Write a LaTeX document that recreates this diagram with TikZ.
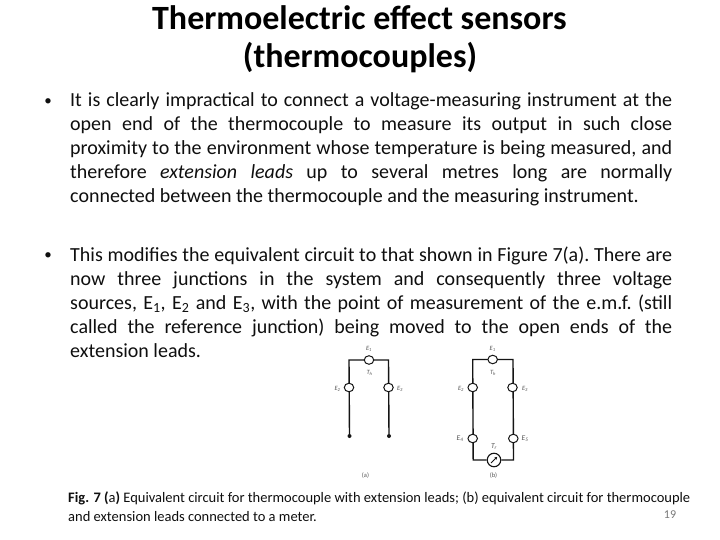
\documentclass[tikz,border=0pt]{standalone}
\usepackage{fontspec}
\setmainfont{Carlito}
\definecolor{inkc}{RGB}{15,15,15}
\definecolor{figc}{RGB}{20,20,20}
\definecolor{lblc}{RGB}{85,85,85}
\definecolor{numc}{RGB}{120,120,120}
\newcommand{\jline}[1]{\hbox to 602pt{\frenchspacing\spaceskip=0.2em plus 1fil\relax #1}}
\tikzset{
 x=1pt,y=-1pt,
 titletext/.style={font=\fontsize{34}{38}\selectfont\bfseries,text=black,inner sep=0,anchor=base},
 bodytext/.style={font=\fontsize{20}{24}\selectfont,text=inkc,inner sep=0,anchor=north west,align=left},
 bullettext/.style={font=\fontsize{15}{18}\selectfont,text=inkc,inner sep=0,anchor=center},
 captext/.style={font=\fontsize{14.5}{18}\selectfont,text=inkc,inner sep=0,anchor=west},
 wire/.style={draw=figc,line width=1.4pt},
 junc/.style={ellipse,draw=figc,line width=1pt,fill=white,minimum width=9.5pt,minimum height=8.5pt,inner sep=0},
 meter/.style={circle,draw=figc,line width=1.1pt,fill=white,minimum size=13.5pt,inner sep=0},
 lbl/.style={font=\fontsize{6.5}{7}\selectfont\itshape,text=lblc,inner sep=0},
 lblbig/.style={font=\fontsize{7.5}{8}\selectfont\itshape,text=lblc,inner sep=0},
 lblcap/.style={font=\fontsize{6.5}{7}\selectfont,text=lblc,inner sep=0},
 wdot/.style={circle,fill=figc,minimum size=4pt,inner sep=0},
}
\usetikzlibrary{shapes.geometric,arrows.meta}
\begin{document}
\begin{tikzpicture}
\useasboundingbox (0,0) rectangle (720,540);
\fill[white] (0,0) rectangle (720,540);
\node[titletext] (t1) at (359.5,30) {Thermoelectric effect sensors};
\node[titletext] (t2) at (360,68) {(thermocouples)};
\node[bullettext] (b1) at (48,102.5) {•};
\node[bodytext] (p1) at (70,92.5) {\vbox{\baselineskip=24pt
\jline{It is clearly impractical to connect a voltage-measuring instrument at the}
\jline{open end of the thermocouple to measure its output in such close}
\jline{proximity to the environment whose temperature is being measured, and}
\jline{therefore \textit{extension leads} up to several metres long are normally}
\hbox{connected between the thermocouple and the measuring instrument.}}};
\node[bullettext] (b2) at (48,256.5) {•};
\node[bodytext] (p2) at (70,246.5) {\vbox{\baselineskip=24pt
\jline{This modifies the equivalent circuit to that shown in Figure 7(a). There are}
\jline{now three junctions in the system and consequently three voltage}
\jline{sources, E\textsubscript{1}, E\textsubscript{2} and E\textsubscript{3}, with the point of measurement of the e.m.f. (still}
\jline{called the reference junction) being moved to the open ends of the}
\hbox{extension leads.}}};
% circuit (a)
\coordinate (atl) at (349,360);
\coordinate (atr) at (388.5,360);
\node[wdot] (ad1) at (349.5,436) {};
\node[wdot] (ad2) at (389,436) {};
\draw[wire] (ad1) -- (atl) -- (atr) -- (ad2);
\node[junc] (a1) at (369,360) {};
\node[junc] (a2) at (349,387.5) {};
\node[junc] (a3) at (388.5,387.5) {};
\node[lbl] (la1) at (369,349) {E\textsubscript{1}};
\node[lbl] (la2) at (369.5,372.5) {T\textsubscript{h}};
\node[lbl] (la3) at (337.5,389) {E\textsubscript{2}};
\node[lbl] (la4) at (400,389) {E\textsubscript{3}};
\node[lblcap] (la5) at (365.5,476) {(a)};
% circuit (b)
\coordinate (btl) at (472.7,359.5);
\coordinate (btr) at (513,359.5);
\coordinate (bbl) at (473.2,460);
\coordinate (bbr) at (513.5,460);
\node[meter] (bm) at (494,460) {};
\draw[wire] (bm) -- (bbl) -- (btl) -- (btr) -- (bbr) -- (bm);
\node[junc] (b1j) at (492.7,359.5) {};
\node[junc] (b2j) at (472.7,387.5) {};
\node[junc] (b3j) at (512.5,387.5) {};
\node[junc] (b4j) at (472.7,438.5) {};
\node[junc] (b5j) at (513.3,438.5) {};
\draw[draw=figc,line width=1pt,-{Stealth[length=3pt,width=3pt]}] (bm.south west) ++(2.2,-2.2) -- ++(6.2,-6.2);
\node[lbl] (lb1) at (492.7,349) {E\textsubscript{1}};
\node[lbl] (lb2) at (493,372.5) {T\textsubscript{h}};
\node[lbl] (lb3) at (461,388.5) {E\textsubscript{2}};
\node[lbl] (lb4) at (525,389) {E\textsubscript{3}};
\node[lblbig] (lb5) at (460,439) {E\textsubscript{4}};
\node[lblbig] (lb6) at (525,439) {E\textsubscript{5}};
\node[lblbig] (lb7) at (494,447) {T\textsubscript{r}};
\node[lblcap] (lb8) at (493.5,476) {(b)};
% caption
\node[captext] (c1) at (68,498.5) {\textbf{Fig. 7 (}a\textbf{)} Equivalent circuit for thermocouple with extension leads; (b) equivalent circuit for thermocouple};
\node[captext] (c2) at (68,517) {and extension leads connected to a meter.};
\node[font=\fontsize{12}{14}\selectfont,text=numc,inner sep=0] (pg) at (670,515) {19};
\end{tikzpicture}
\end{document}
